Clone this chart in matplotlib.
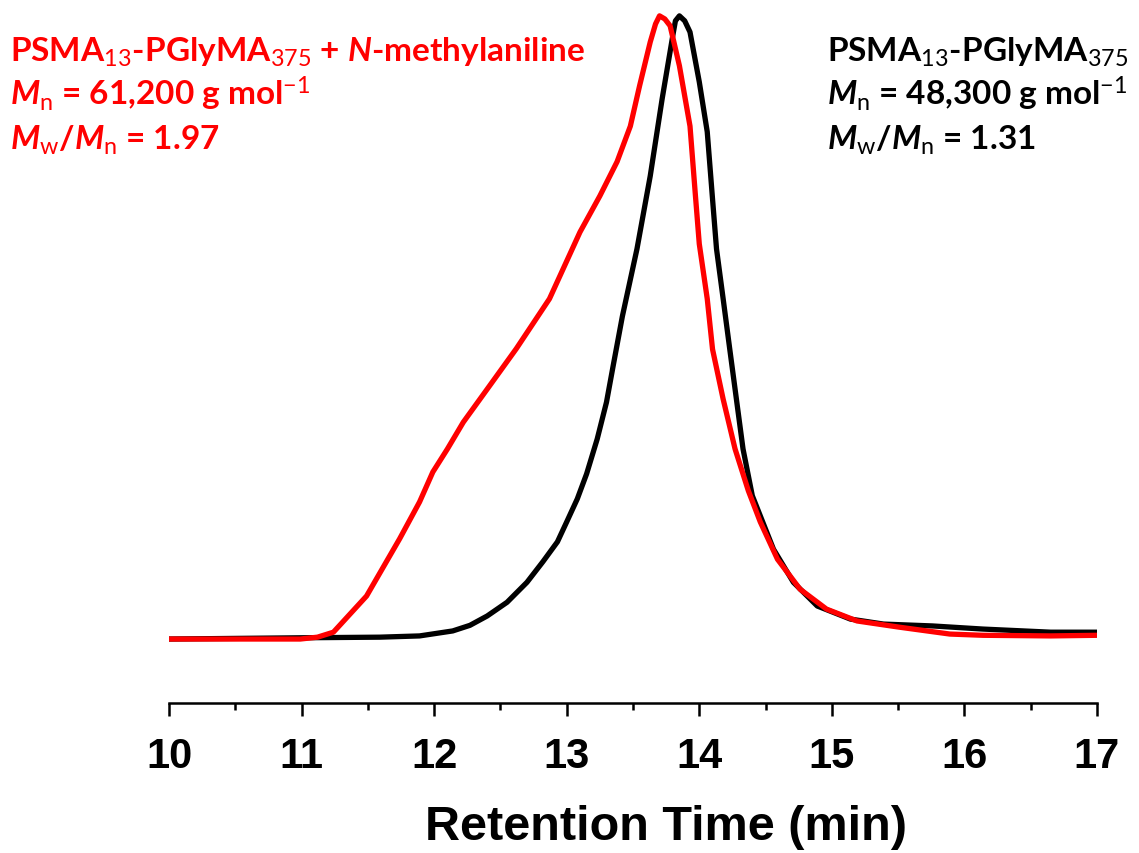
import matplotlib
matplotlib.use("Agg")
import matplotlib.pyplot as plt
from matplotlib.ticker import MultipleLocator

# retention time (min) and normalised RI signal
t_black = [10.00, 10.99, 11.59, 11.89, 12.14, 12.27, 12.40, 12.55, 12.70, 12.82,
           12.93, 13.00, 13.08, 13.15, 13.23, 13.30, 13.35, 13.42, 13.53, 13.63,
           13.72, 13.80, 13.82, 13.85, 13.89, 13.93, 14.00, 14.06, 14.10, 14.13,
           14.18, 14.23, 14.28, 14.33, 14.40, 14.56, 14.71, 14.89, 15.14, 15.39,
           15.76, 16.14, 16.65, 17.00]
s_black = [0.0, 0.002, 0.003, 0.005, 0.013, 0.022, 0.037, 0.059, 0.091, 0.124,
           0.156, 0.188, 0.225, 0.265, 0.321, 0.380, 0.438, 0.518, 0.626, 0.743,
           0.867, 0.968, 0.992, 1.0, 0.992, 0.974, 0.894, 0.814, 0.706, 0.626,
           0.546, 0.465, 0.385, 0.305, 0.230, 0.144, 0.091, 0.053, 0.032, 0.024,
           0.021, 0.016, 0.011, 0.011]

t_red = [10.00, 10.61, 10.99, 11.12, 11.24, 11.49, 11.74, 11.89, 11.99, 12.10,
         12.22, 12.40, 12.62, 12.87, 13.10, 13.25, 13.38, 13.48, 13.55, 13.63,
         13.67, 13.70, 13.74, 13.78, 13.85, 13.93, 13.97, 14.00, 14.06, 14.10,
         14.18, 14.27, 14.37, 14.46, 14.59, 14.76, 14.96, 15.19, 15.51, 15.89,
         16.14, 16.65, 17.00]
s_red = [0.0, 0.0, 0.0, 0.003, 0.011, 0.069, 0.161, 0.220, 0.268, 0.305,
         0.348, 0.401, 0.466, 0.546, 0.653, 0.711, 0.766, 0.823, 0.888, 0.958,
         0.987, 1.0, 0.995, 0.984, 0.920, 0.823, 0.714, 0.634, 0.546, 0.465,
         0.385, 0.305, 0.238, 0.188, 0.128, 0.080, 0.048, 0.029, 0.019, 0.008,
         0.006, 0.005, 0.006]

red_lines = [r"PSMA$_{\mathsf{13}}$-PGlyMA$_{\mathsf{375}}$ + $\mathit{N}$-methylaniline",
             r"$\mathit{M}_{\mathsf{n}}$ = 61,200 g mol$^{\mathsf{-1}}$",
             r"$\mathit{M}_{\mathsf{w}}$/$\mathit{M}_{\mathsf{n}}$ = 1.97"]
black_lines = [r"PSMA$_{\mathsf{13}}$-PGlyMA$_{\mathsf{375}}$",
               r"$\mathit{M}_{\mathsf{n}}$ = 48,300 g mol$^{\mathsf{-1}}$",
               r"$\mathit{M}_{\mathsf{w}}$/$\mathit{M}_{\mathsf{n}}$ = 1.31"]

plt.rcParams['mathtext.fontset'] = 'custom'
plt.rcParams['mathtext.rm'] = 'Lato:bold'
plt.rcParams['mathtext.sf'] = 'Lato'
plt.rcParams['mathtext.it'] = 'Lato:bold:italic'
plt.rcParams['mathtext.bf'] = 'Lato:bold'

fig = plt.figure(figsize=(11.39, 8.54), dpi=100)
ax = fig.add_axes([0.1484, 0.1756, 0.8147, 0.8127])

ax.plot(t_black, s_black, color='black', lw=3.8, solid_joinstyle='round')
ax.plot(t_red, s_red, color='#ff0000', lw=3.8, solid_joinstyle='round')

ax.set_xlim(10, 17)
ax.set_ylim(-0.1027, 1.011)
for side in ['left', 'right', 'top']:
    ax.spines[side].set_visible(False)
ax.spines['bottom'].set_linewidth(1.8)
ax.set_yticks([])
ax.xaxis.set_major_locator(MultipleLocator(1))
ax.xaxis.set_minor_locator(MultipleLocator(0.5))
ax.tick_params(axis='x', which='major', length=9.5, width=1.8, pad=14)
ax.tick_params(axis='x', which='minor', length=5, width=1.8)
for lab in ax.get_xticklabels():
    lab.set_fontfamily('Liberation Sans')
    lab.set_fontweight('bold')
    lab.set_fontsize(30)

fig.text(666 / 1139, 1 - 828 / 854, "Retention Time (min)", ha='center', va='center',
         fontsize=35, fontweight='bold', family='Liberation Sans')

ys = [62, 106, 150]
for txt, y in zip(red_lines, ys):
    fig.text(10 / 1139, 1 - y / 854, txt, ha='left', va='baseline', color='#ff0000',
             fontsize=24, fontweight='bold', family='Lato')
for txt, y in zip(black_lines, ys):
    fig.text(827 / 1139, 1 - y / 854, txt, ha='left', va='baseline', color='black',
             fontsize=24, fontweight='bold', family='Lato')

fig.savefig('out.png', dpi=100)
